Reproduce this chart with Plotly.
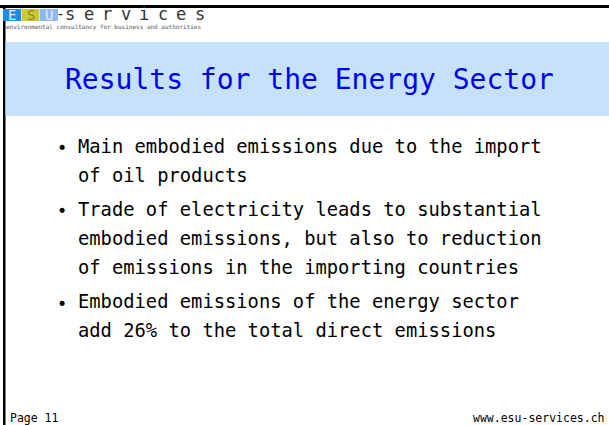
import plotly.graph_objects as go

# slide content
title = "Results for the Energy Sector"
bullets = [
    ["Main embodied emissions due to the import", "of oil products"],
    ["Trade of electricity leads to substantial",
     "embodied emissions, but also to reduction",
     "of emissions in the importing countries"],
    ["Embodied emissions of the energy sector",
     "add 26% to the total direct emissions"],
]
logo_letters = ["E", "S", "U"]
logo_word = "services"
tagline = "environmental consultancy for business and authorities"
footer_left = "Page 11"
footer_right = "www.esu-services.ch"

W, H = 609, 425
MONO = "DejaVu Sans Mono"

fig = go.Figure()
shapes = []
annotations = []

# frame lines (top and left)
shapes.append(dict(type="rect", x0=0, x1=W, y0=5, y1=8, fillcolor="black", line_width=0))
shapes.append(dict(type="rect", x0=3, x1=5.5, y0=5, y1=H, fillcolor="black", line_width=0))

# logo blocks
block_cols = ["#1f8be8", "#c9c83a", "#8cb9f0"]
letter_cols = ["#d8ecff", "#8a8a22", "#e2eefb"]
bx = 3
for letter, bc, lc in zip(logo_letters, block_cols, letter_cols):
    shapes.append(dict(type="rect", x0=bx, x1=bx + 18, y0=9, y1=21, fillcolor=bc, line_width=0))
    annotations.append(dict(x=bx + 9, y=15, text=letter, showarrow=False,
                            font=dict(family=MONO, size=14, color=lc)))
    bx += 18.5
annotations.append(dict(x=60, y=14, text="-", showarrow=False,
                        font=dict(family=MONO, size=15, color="#333333")))
for i, ch in enumerate(logo_word):
    annotations.append(dict(x=70 + 18.5 * i, y=14, text=ch, showarrow=False,
                            font=dict(family=MONO, size=17, color="#333333")))
annotations.append(dict(x=4, y=27, text=tagline, showarrow=False, xanchor="left",
                        font=dict(family=MONO, size=6, color="#555555")))

# title band
shapes.append(dict(type="rect", x0=5.5, x1=W, y0=42, y1=116, fillcolor="#c5e1fc", line_width=0))
annotations.append(dict(x=309, y=79, text=title, showarrow=False,
                        font=dict(family=MONO, size=28, color="#0000ee")))

# bullets
y = 146
for group in bullets:
    annotations.append(dict(x=62, y=y + 2, text="•", showarrow=False,
                            font=dict(family=MONO, size=17, color="black")))
    for line in group:
        annotations.append(dict(x=76, y=y, text=line, showarrow=False, xanchor="left",
                                font=dict(family=MONO, size=18.8, color="black")))
        y += 29.3
    y += 4.5

# footer
annotations.append(dict(x=8, y=418, text=footer_left, showarrow=False, xanchor="left",
                        font=dict(family=MONO, size=11.5, color="black")))
annotations.append(dict(x=607, y=418, text=footer_right, showarrow=False, xanchor="right",
                        font=dict(family=MONO, size=11.5, color="black")))

fig.update_layout(
    width=W, height=H,
    margin=dict(l=0, r=0, t=0, b=0),
    paper_bgcolor="white", plot_bgcolor="white",
    xaxis=dict(range=[0, W], visible=False, fixedrange=True),
    yaxis=dict(range=[H, 0], visible=False, fixedrange=True),
    shapes=shapes,
    annotations=annotations,
    showlegend=False,
)
# drop the default page margin so the slide sits at the window corner
fig.write_html("out.html", config={"displayModeBar": False},
               post_script="document.body.style.margin='0';document.body.style.overflow='hidden';")
